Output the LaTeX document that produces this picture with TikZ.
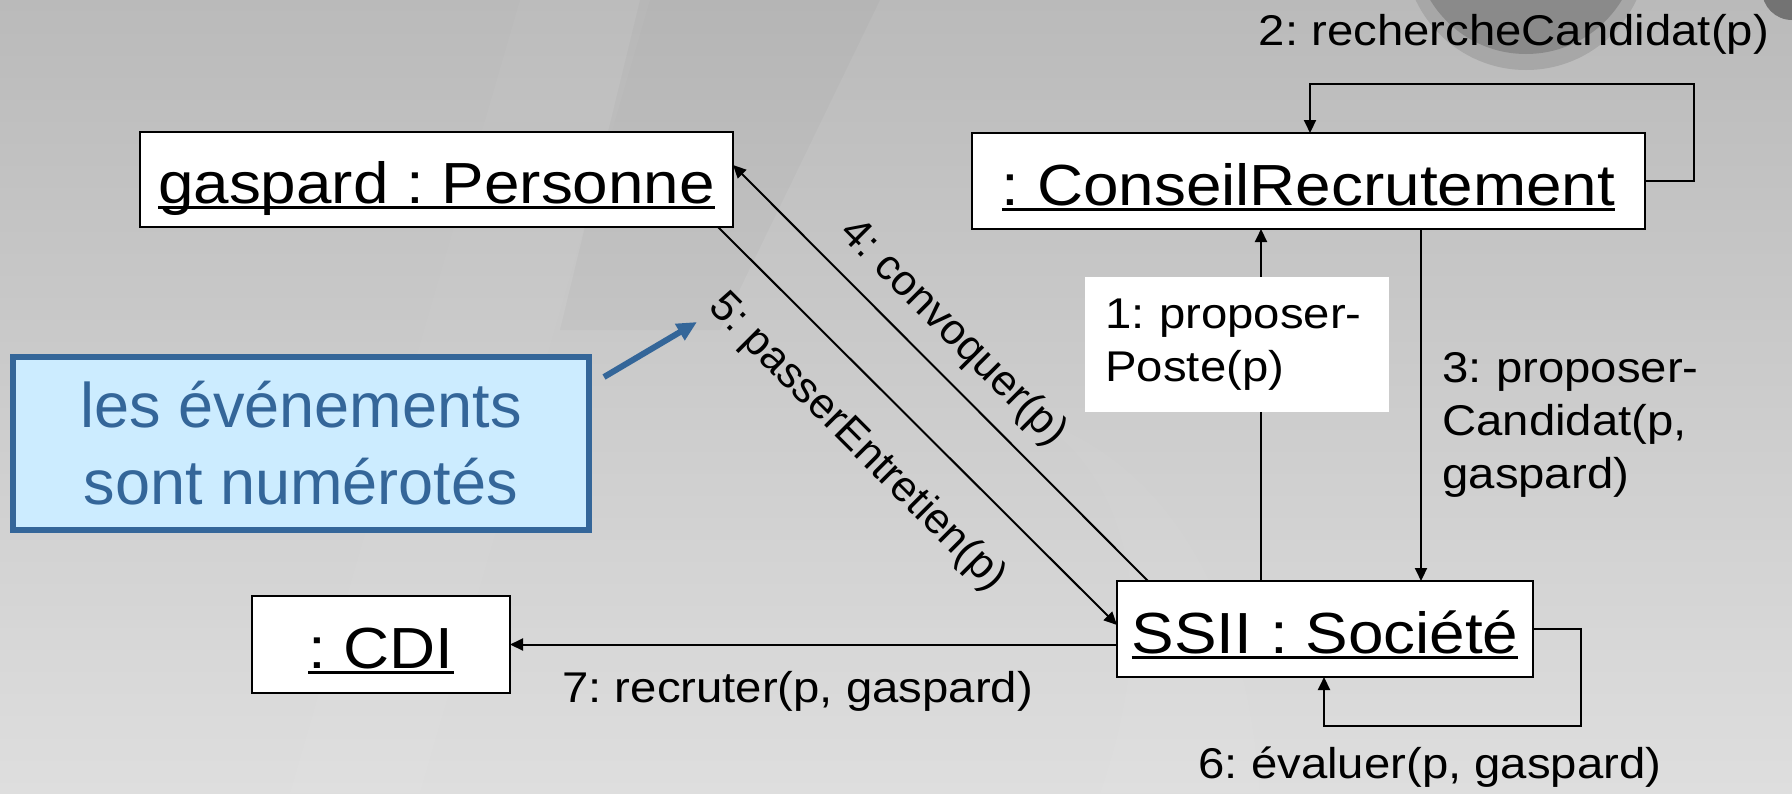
\documentclass[tikz,border=0pt]{standalone}
\usepackage{fontspec}
\setmainfont{Liberation Sans}[FakeStretch=1.1]
\newfontfamily\plainfont{Liberation Sans}
\usetikzlibrary{arrows.meta}
\definecolor{noteblue}{RGB}{52,102,153}
\definecolor{notefill}{RGB}{204,236,255}
\definecolor{bgtop}{RGB}{186,186,186}
\definecolor{bgbot}{RGB}{222,222,222}
\definecolor{disc}{RGB}{138,138,138}
\newcommand{\myul}[1]{\setbox0\hbox{#1}\rlap{\rule[-0.1em]{\wd0}{0.05em}}\box0}
\frenchspacing
\begin{document}
\frenchspacing
\begin{tikzpicture}[x=0.5pt,y=-0.5pt,
  obj/.style={draw, line width=1.3pt, fill=white, outer sep=0pt, inner sep=0pt,
    text height=30pt, text depth=6pt, font=\frenchspacing\fontsize{29}{35}\selectfont},
  msg/.style={line width=1pt, -{Triangle[length=6.5pt,width=6pt]}},
  lab/.style={inner sep=0pt, font=\frenchspacing\fontsize{21.5}{26.5}\selectfont},
  rlab/.style={inner sep=0pt, font=\frenchspacing\plainfont\fontsize{21.5}{26.5}\selectfont, rotate=-45},
  notebox/.style={draw=noteblue, line width=3pt, fill=notefill, text=noteblue,
    inner sep=0pt, outer sep=0pt, align=center, font=\plainfont\fontsize{31.5}{38.5}\selectfont},
  notearrow/.style={draw=noteblue, line width=3pt, -{Triangle[length=10pt,width=9pt]}}]
\useasboundingbox (0,0) rectangle (1792,793);
% background
\shade[top color=bgtop, bottom color=bgbot] (0,0) rectangle (1792,793);
\fill[white, opacity=0.03] (520,0) -- (650,0) -- (420,793) -- (290,793) -- cycle;
\fill[black, opacity=0.025] (640,0) -- (880,0) -- (720,330) -- (560,330) -- cycle;
\fill[white, opacity=0.03] (1040,420) .. controls (1150,500) and (1150,650) .. (1100,793) -- (1260,793) .. controls (1250,650) and (1200,480) .. (1040,420) -- cycle;
\begin{scope}
\clip (0,0) rectangle (1792,793);
\fill[disc!75!white] (1526,-52) circle (122);
\fill[disc] (1526,-58) circle (112);
\fill[black!55] (1792,-10) circle (30);
\end{scope}
% objects
\node[obj, minimum width=296.5pt, minimum height=47.5pt] (gaspard) at (436.5,179.5) {\myul{gaspard : Personne}};
\node[obj, minimum width=336.5pt, minimum height=48pt] (conseil) at (1308.5,181) {\myul{: ConseilRecrutement}};
\node[obj, minimum width=208pt, minimum height=48pt] (ssii) at (1325,629) {\myul{SSII : Société}};
\node[obj, minimum width=129pt, minimum height=48.5pt] (cdi) at (381,644.5) {\myul{: CDI}};
% note
\node[notebox, minimum width=288pt, minimum height=86.5pt] (note) at (301,443.5) {les événements\\sont numérotés};
\coordinate (na) at (604,377);
\coordinate (nb) at (697,322);
\draw[notearrow] (na) -- (nb);
% messages
\draw[msg] (1261,0 |- ssii.north) -- (1261,0 |- conseil.south);
\draw[msg] (conseil.east) -- ++(49,0) |- (1310,84) -- (1310,0 |- conseil.north);
\draw[msg] (1421,0 |- conseil.south) -- (1421,0 |- ssii.north);
\draw[msg] (1148,0 |- ssii.north) -- (gaspard.east |- 0,165);
\draw[msg] (718,0 |- gaspard.south) -- (ssii.west |- 0,625);
\draw[msg] (ssii.east) -- ++(48,0) |- (1324,726) -- (1324,0 |- ssii.south);
\draw[msg] (ssii.west |- cdi.east) -- (cdi.east);
% labels
\node[lab, anchor=base] (l2) at (1514,45) {2: rechercheCandidat(p)};
\node[lab, fill=white, anchor=north west, minimum width=152pt, minimum height=67.5pt,
  inner xsep=10pt, inner ysep=0pt, text width=132pt, align=left] (l1) at (1085,277) {1: proposer-\\Poste(p)};
\node[lab, anchor=base west, text width=150pt, align=left] (l3) at (1442,382) {3: proposer-\\Candidat(p,\\gaspard)};
\node[rlab] (l4) at (953,333) {4: convoquer(p)};
\node[rlab] (l5) at (857,443) {5: passerEntretien(p)};
\node[lab, anchor=base] (l6) at (1430,778) {6: évaluer(p, gaspard)};
\node[lab, anchor=base west] (l7) at (562,702) {7: recruter(p, gaspard)};
\end{tikzpicture}
\end{document}
